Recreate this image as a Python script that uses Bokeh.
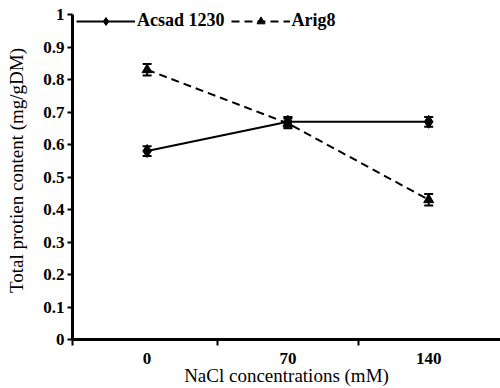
import numpy as np
from bokeh.plotting import figure
from bokeh.models import ColumnDataSource, Whisker, TeeHead, FixedTicker, Legend, LegendItem, Range1d
from bokeh.embed import file_html
from bokeh.resources import INLINE

concentrations = ["0", "70", "140"]
acsad = [0.58, 0.67, 0.67]
acsad_err = [0.015, 0.015, 0.015]
arig = [0.83, 0.665, 0.43]
arig_err = [0.018, 0.015, 0.018]
y_ticks = [0, 0.1, 0.2, 0.3, 0.4, 0.5, 0.6, 0.7, 0.8, 0.9, 1]
y_tick_labels = ["0", "0.1", "0.2", "0.3", "0.4", "0.5", "0.6", "0.7", "0.8", "0.9", "1"]

xs = list(range(len(concentrations)))

p = figure(width=500, height=388, output_backend="svg", toolbar_location=None,
           x_range=Range1d(-0.53, 2.51), y_range=Range1d(0, 1.04),
           min_border_left=72, min_border_right=0, min_border_top=1, min_border_bottom=49)
p.outline_line_color = None
p.xgrid.visible = False
p.ygrid.visible = False
p.background_fill_color = "white"

FONT = "Liberation Serif"

# axes
p.xaxis.ticker = FixedTicker(ticks=xs, minor_ticks=[-0.53, 0.5, 1.5])
p.xaxis.major_label_overrides = {i: c for i, c in zip(xs, concentrations)}
p.xaxis.major_tick_out = 0
p.xaxis.major_tick_in = 0
p.xaxis.minor_tick_out = 6
p.xaxis.minor_tick_in = 0
p.xaxis.minor_tick_line_width = 2
p.xaxis.axis_line_width = 3
p.xaxis.major_label_standoff = 7
p.xaxis.axis_label = "NaCl concentrations (mM)"
p.xaxis.axis_label_standoff = -2

p.yaxis.ticker = FixedTicker(ticks=y_ticks, minor_ticks=[])
p.yaxis.bounds = (0, 1)
p.yaxis.major_label_overrides = {t: l for t, l in zip(y_ticks, y_tick_labels)}
p.yaxis.major_tick_out = 5
p.yaxis.major_tick_in = 0
p.yaxis.major_tick_line_width = 2
p.yaxis.axis_line_width = 3
p.yaxis.major_label_standoff = 3
p.yaxis.axis_label = "Total protien content (mg/gDM)"
p.yaxis.axis_label_standoff = 13

for ax in (p.xaxis, p.yaxis):
    ax.major_label_text_font = FONT
    ax.major_label_text_font_style = "bold"
    ax.major_label_text_font_size = "17px"
    ax.major_label_text_color = "black"
    ax.axis_label_text_font = FONT
    ax.axis_label_text_font_style = "normal"
    ax.axis_label_text_font_size = "19px"
    ax.axis_label_text_color = "black"
    ax.axis_line_color = "black"
    ax.major_tick_line_color = "black"
    ax.minor_tick_line_color = "black"

src_a = ColumnDataSource(dict(x=xs, y=acsad,
                              lo=[v - e for v, e in zip(acsad, acsad_err)],
                              hi=[v + e for v, e in zip(acsad, acsad_err)]))
src_b = ColumnDataSource(dict(x=xs, y=arig,
                              lo=[v - e for v, e in zip(arig, arig_err)],
                              hi=[v + e for v, e in zip(arig, arig_err)]))

la = p.line("x", "y", source=src_a, line_color="black", line_width=2)
sa = p.scatter("x", "y", source=src_a, marker="diamond", size=13,
               fill_color="black", line_color="black")
lb = p.line("x", "y", source=src_b, line_color="black", line_width=2, line_dash="8 5")
sb = p.scatter("x", "y", source=src_b, marker="triangle", size=10,
               fill_color="black", line_color="black")

for src in (src_a, src_b):
    w = Whisker(source=src, base="x", upper="hi", lower="lo", line_color="black", line_width=2,
                upper_head=TeeHead(size=9, line_width=2, line_color="black"),
                lower_head=TeeHead(size=9, line_width=2, line_color="black"))
    p.add_layout(w)

legend = Legend(items=[LegendItem(label="Acsad 1230", renderers=[la, sa]),
                       LegendItem(label="Arig8", renderers=[lb, sb])],
                location=(4, 308), orientation="horizontal")
legend.glyph_width = 59
legend.glyph_height = 20
legend.label_standoff = 2
legend.spacing = 6
legend.padding = 0
legend.margin = 0
legend.border_line_alpha = 0
legend.background_fill_alpha = 0
legend.label_text_font = FONT
legend.label_text_font_style = "bold"
legend.label_text_font_size = "18px"
legend.label_text_color = "black"
p.add_layout(legend)

open("out.html", "w").write(file_html(p, INLINE))
